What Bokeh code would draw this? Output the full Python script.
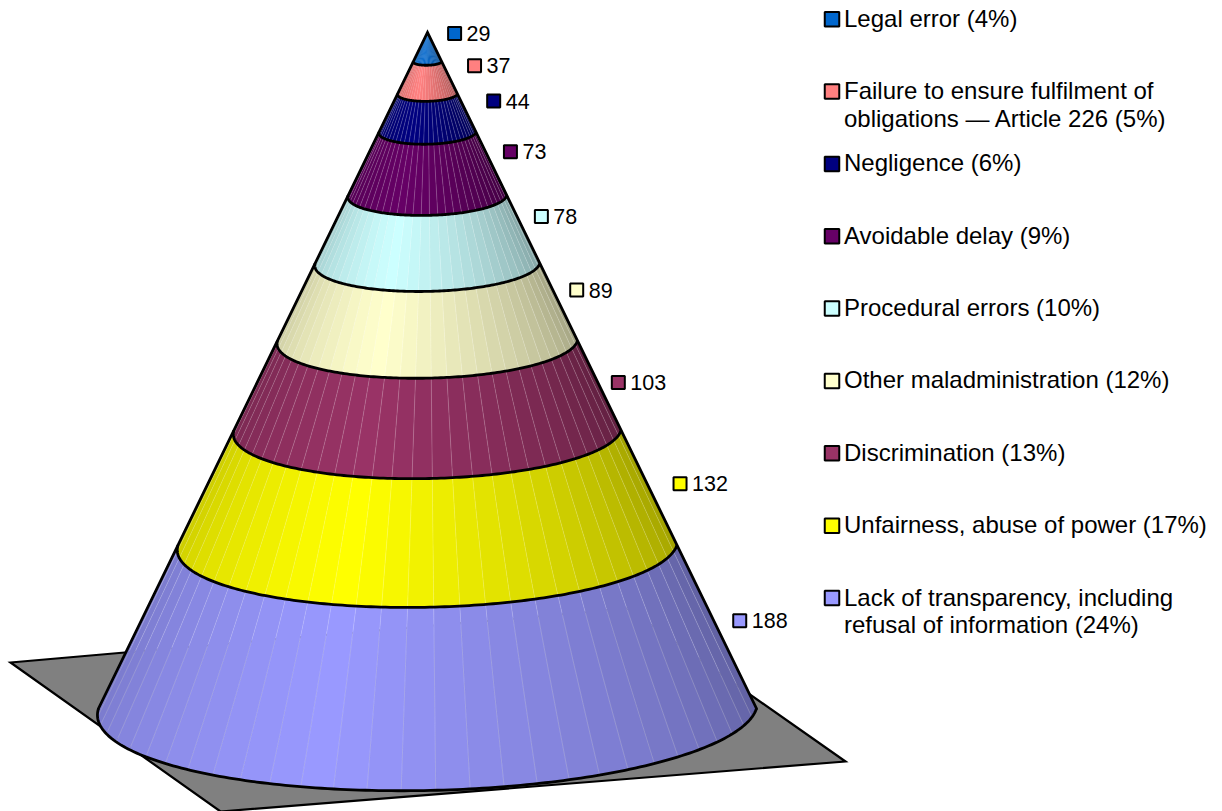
import numpy as np
from bokeh.plotting import figure
from bokeh.models import ColumnDataSource, Range1d
from bokeh.core.properties import value
from bokeh.embed import file_html
from bokeh.resources import INLINE

# ---- data, top of the cone first
categories = ["Legal error", "Failure to ensure fulfilment of obligations — Article 226", "Negligence",
              "Avoidable delay", "Procedural errors", "Other maladministration", "Discrimination",
              "Unfairness, abuse of power", "Lack of transparency, including refusal of information"]
counts = [29, 37, 44, 73, 78, 89, 103, 132, 188]
legend_labels = ["Legal error (4%)",
                 "Failure to ensure fulfilment of\nobligations — Article 226 (5%)",
                 "Negligence (6%)", "Avoidable delay (9%)", "Procedural errors (10%)",
                 "Other maladministration (12%)", "Discrimination (13%)",
                 "Unfairness, abuse of power (17%)",
                 "Lack of transparency, including\nrefusal of information (24%)"]
colors = ["#0066CC", "#FF8080", "#000080", "#660066", "#CCFFFF", "#FFFFCC", "#993366", "#FFFF00", "#9999FF"]

# ---- layout (reference pixels)
W, H = 1222, 811
FONT = "Liberation Sans"
cx, tip_y, top_y, base_y = 427.0, 32.0, 36.0, 708.0
slope = 329.0 / (708.0 - 32.0)
depth = 0.25
shear = 0.08
n_facets = 30
label_dx = [20, 25, 27, 19, 18, 18, 19, 31, 23]
label_dy = [-13.5, -12, -12, -12, -13, -12, -3, -4, -6]
legend_x, legend_y0, legend_step = 831.5, 18.7, 72.35
floor_x = [10, 627, 845, 220]
floor_y = [662, 608, 761, 811]

total = sum(counts)
cum = np.cumsum([0] + counts)
levels = top_y + (base_y - top_y) * cum / total
levels[0] = tip_y


def ring(y, th):
    r = (y - tip_y) * slope
    return cx + r * np.cos(th) - shear * r * np.sin(th), y + depth * r * np.sin(th)


def shade(th):
    peak = np.radians(106)
    if th >= peak:
        return 1 - 0.22 * ((th - peak) / (np.pi - peak)) ** 1.15
    return 1 - 0.37 * ((peak - th) / peak) ** 1.15


def tint(col, k):
    rgb = [int(col[i:i + 2], 16) for i in (1, 3, 5)]
    return "#%02x%02x%02x" % tuple(int(round(c * k)) for c in rgb)


edges = np.linspace(0, np.pi, n_facets + 1)
fx, fy, fc, sx, sy, sa = [], [], [], [], [], []
for b, col in enumerate(colors):
    y0, y1 = levels[b], levels[b + 1]
    for i in range(n_facets):
        a0, a1 = edges[i], edges[i + 1]
        t = np.linspace(a0, a1, 5)
        x_up, y_up = ring(y0, t)
        x_lo, y_lo = ring(y1, t[::-1])
        fx.append(np.r_[x_up, x_lo])
        fy.append(np.r_[y_up, y_lo])
        fc.append(tint(col, shade((a0 + a1) / 2)))
        if i:
            xa, ya = ring(y0, a0)
            xb, yb = ring(y1, a0)
            sx.append([xa, xb])
            sy.append([ya, yb])
            sa.append(0.08 if b < 2 else 0.24)

p = figure(width=W, height=H, output_backend="svg", toolbar_location=None,
           x_range=Range1d(0, W), y_range=Range1d(H, 0),
           min_border=0, outline_line_color=None)
p.xaxis.visible = False
p.yaxis.visible = False
p.xgrid.visible = False
p.ygrid.visible = False

# floor
p.patch(floor_x, floor_y, fill_color="#808080", line_color="black", line_width=2.2, line_join="miter")

# cone surface
p.patches("x", "y", source=ColumnDataSource(dict(x=fx, y=fy, c=fc)),
          fill_color="c", line_color="c", line_width=0.3)
p.multi_line("x", "y", source=ColumnDataSource(dict(x=sx, y=sy, a=sa)),
             line_color="white", line_alpha="a", line_width=0.8)

# band boundaries and silhouette
th = np.linspace(0, np.pi, 160)
arc_x, arc_y = [], []
for y in levels[1:]:
    ax, ay = ring(y, th)
    arc_x.append(ax)
    arc_y.append(ay)
p.multi_line(arc_x, arc_y, line_color="black", line_width=2.8, line_join="round")
r_base = (base_y - tip_y) * slope
p.line([cx - r_base, cx, cx + r_base], [base_y, tip_y, base_y], line_color="black", line_width=2.8,
       line_join="miter", line_cap="round")

# value labels
lx, ly = [], []
for b in range(len(counts)):
    mid = (levels[b] + levels[b + 1]) / 2
    lx.append(cx + (mid - tip_y) * slope + label_dx[b])
    ly.append(mid + label_dy[b])
p.scatter(lx, ly, marker="square", size=13, fill_color=colors, line_color="black", line_width=2)
p.text([v + 12 for v in lx], ly, text=[str(c) for c in counts], text_font=value(FONT), text_font_size="21.5px",
       text_baseline="middle", text_align="left", text_color="black")

# legend
ky = [legend_y0 + legend_step * i for i in range(len(legend_labels))]
p.scatter([legend_x] * len(ky), ky, marker="square", size=14.5, fill_color=colors, line_color="black", line_width=2)
p.text([legend_x + 12] * len(ky), [v - 14.5 for v in ky], text=legend_labels, text_font=value(FONT),
       text_font_size="24px", text_baseline="top", text_align="left", text_color="black", text_line_height=1.02)

open("out.html", "w").write(file_html(p, INLINE))
